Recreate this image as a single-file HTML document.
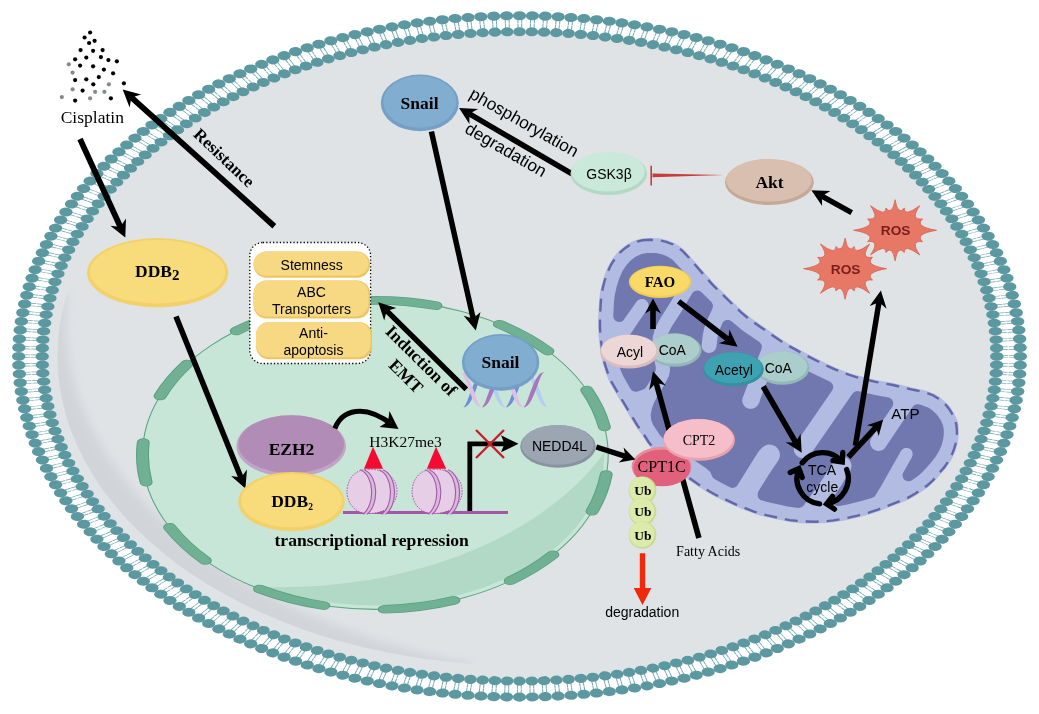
<!DOCTYPE html>
<html><head><meta charset="utf-8"><title>Pathway</title>
<style>
html,body{margin:0;padding:0;background:#fff;}
svg{display:block;will-change:transform;opacity:.999}
.bs{font-family:"Liberation Serif",serif;font-weight:bold}
.rs{font-family:"Liberation Serif",serif}
.sa{font-family:"Liberation Sans",sans-serif}
.bsa{font-family:"Liberation Sans",sans-serif;font-weight:bold}
</style></head><body>
<svg width="1039" height="714" viewBox="0 0 1039 714">
<defs>
<clipPath id="cellclip"><ellipse cx="519.5" cy="356.6" rx="478" ry="325"/></clipPath>
<clipPath id="nucclip"><ellipse cx="375.35" cy="454.9" rx="232.85" ry="154.5"/></clipPath>
<clipPath id="cresclip"><ellipse cx="519.5" cy="356.4" rx="462" ry="309"/></clipPath>
<filter id="blur5" x="-10%" y="-10%" width="120%" height="120%"><feGaussianBlur stdDeviation="5"/></filter>
</defs>
<g id="cell">
<ellipse cx="519.5" cy="356.4" rx="478" ry="325" fill="#dfe3e6"/>
<g clip-path="url(#cresclip)"><path d="M469.8,676.6 458.6,675.7 447.3,674.7 436.1,673.4 424.9,672 413.8,670.3 402.7,668.5 391.8,666.5 380.8,664.4 370,662 359.3,659.5 348.6,656.8 338.1,654 327.6,651 317.3,647.8 307,644.4 296.9,640.9 286.9,637.2 277.1,633.3 267.4,629.3 257.8,625.1 248.4,620.8 239.2,616.3 230.1,611.7 221.1,606.9 212.4,602 203.8,597 195.4,591.8 187.2,586.5 179.1,581 171.3,575.4 163.7,569.7 156.2,563.9 149,557.9 142,551.8 135.2,545.7 128.6,539.4 122.3,533 116.2,526.5 110.3,519.9 104.6,513.2 99.2,506.4 94,499.6 89.1,492.6 84.4,485.6 80,478.5 75.8,471.3 71.9,464.1 68.2,456.8 64.8,449.5 61.6,442.1 58.7,434.6 56.1,427.1 53.7,419.6 51.6,412 49.8,404.4 48.2,396.8 47,389.1 45.9,381.4 45.2,373.7 44.7,366 44.5,358.3 44.6,350.6 44.9,342.9 45.5,335.2 46.4,327.5 47.6,319.9 49,312.2 50.7,304.6 52.6,297 54.9,289.5 67.6,292.2 67,299.7 66.5,307.1 66.2,314.5 66.1,321.9 66.2,329.2 66.5,336.5 67.1,343.8 67.9,351 68.9,358.2 70.2,365.3 71.7,372.4 73.4,379.4 75.3,386.4 77.4,393.3 79.8,400.2 82.3,407 85.1,413.8 88,420.5 91.2,427.1 94.6,433.7 98.1,440.2 101.9,446.7 105.8,453.1 110,459.4 114.3,465.6 118.8,471.8 123.5,478 128.3,484 133.4,490 138.6,495.9 143.9,501.8 149.5,507.6 155.2,513.3 161.1,518.9 167.1,524.5 173.3,530 179.7,535.4 186.2,540.8 192.9,546.1 199.8,551.3 206.8,556.4 213.9,561.5 221.3,566.4 228.7,571.3 236.3,576.1 244.1,580.9 252,585.5 260.1,590.1 268.3,594.5 276.7,598.9 285.2,603.2 293.8,607.4 302.6,611.5 311.5,615.4 320.6,619.3 329.8,623.1 339.1,626.8 348.6,630.3 358.1,633.8 367.9,637.1 377.7,640.3 387.7,643.4 397.7,646.3 407.9,649.1 418.2,651.9 428.6,654.4 439.1,656.9 449.7,659.2 460.4,661.5 471.2,663.7Z" fill="#d1d5da" filter="url(#blur5)"/></g>
<g transform="translate(519.5,356.4) scale(1.47,1)">
<circle r="332.7" fill="none" stroke="#ffffff" stroke-width="14"/>
<circle r="332.7" fill="none" stroke="#74a9b0" stroke-width="8" stroke-dasharray="0.7 5.267 0.7 1.9" stroke-dashoffset="7.567"/><circle r="332.7" fill="none" stroke="#fff" stroke-width="0.7" stroke-opacity="0.7"/>
<g fill="#5b98a0"><ellipse rx="4.55" ry="4.5" transform="rotate(0.00) translate(340.7 0)"/><ellipse rx="4.55" ry="4.3" transform="rotate(0.00) translate(324.7 0)"/><ellipse rx="4.55" ry="4.5" transform="rotate(1.48) translate(340.7 0)"/><ellipse rx="4.55" ry="4.3" transform="rotate(1.48) translate(324.7 0)"/><ellipse rx="4.55" ry="4.5" transform="rotate(2.95) translate(340.7 0)"/><ellipse rx="4.55" ry="4.3" transform="rotate(2.95) translate(324.7 0)"/><ellipse rx="4.55" ry="4.5" transform="rotate(4.43) translate(340.7 0)"/><ellipse rx="4.55" ry="4.3" transform="rotate(4.43) translate(324.7 0)"/><ellipse rx="4.55" ry="4.5" transform="rotate(5.90) translate(340.7 0)"/><ellipse rx="4.55" ry="4.3" transform="rotate(5.90) translate(324.7 0)"/><ellipse rx="4.55" ry="4.5" transform="rotate(7.38) translate(340.7 0)"/><ellipse rx="4.55" ry="4.3" transform="rotate(7.38) translate(324.7 0)"/><ellipse rx="4.55" ry="4.5" transform="rotate(8.85) translate(340.7 0)"/><ellipse rx="4.55" ry="4.3" transform="rotate(8.85) translate(324.7 0)"/><ellipse rx="4.55" ry="4.5" transform="rotate(10.33) translate(340.7 0)"/><ellipse rx="4.55" ry="4.3" transform="rotate(10.33) translate(324.7 0)"/><ellipse rx="4.55" ry="4.5" transform="rotate(11.80) translate(340.7 0)"/><ellipse rx="4.55" ry="4.3" transform="rotate(11.80) translate(324.7 0)"/><ellipse rx="4.55" ry="4.5" transform="rotate(13.28) translate(340.7 0)"/><ellipse rx="4.55" ry="4.3" transform="rotate(13.28) translate(324.7 0)"/><ellipse rx="4.55" ry="4.5" transform="rotate(14.75) translate(340.7 0)"/><ellipse rx="4.55" ry="4.3" transform="rotate(14.75) translate(324.7 0)"/><ellipse rx="4.55" ry="4.5" transform="rotate(16.23) translate(340.7 0)"/><ellipse rx="4.55" ry="4.3" transform="rotate(16.23) translate(324.7 0)"/><ellipse rx="4.55" ry="4.5" transform="rotate(17.70) translate(340.7 0)"/><ellipse rx="4.55" ry="4.3" transform="rotate(17.70) translate(324.7 0)"/><ellipse rx="4.55" ry="4.5" transform="rotate(19.18) translate(340.7 0)"/><ellipse rx="4.55" ry="4.3" transform="rotate(19.18) translate(324.7 0)"/><ellipse rx="4.55" ry="4.5" transform="rotate(20.66) translate(340.7 0)"/><ellipse rx="4.55" ry="4.3" transform="rotate(20.66) translate(324.7 0)"/><ellipse rx="4.55" ry="4.5" transform="rotate(22.13) translate(340.7 0)"/><ellipse rx="4.55" ry="4.3" transform="rotate(22.13) translate(324.7 0)"/><ellipse rx="4.55" ry="4.5" transform="rotate(23.61) translate(340.7 0)"/><ellipse rx="4.55" ry="4.3" transform="rotate(23.61) translate(324.7 0)"/><ellipse rx="4.55" ry="4.5" transform="rotate(25.08) translate(340.7 0)"/><ellipse rx="4.55" ry="4.3" transform="rotate(25.08) translate(324.7 0)"/><ellipse rx="4.55" ry="4.5" transform="rotate(26.56) translate(340.7 0)"/><ellipse rx="4.55" ry="4.3" transform="rotate(26.56) translate(324.7 0)"/><ellipse rx="4.55" ry="4.5" transform="rotate(28.03) translate(340.7 0)"/><ellipse rx="4.55" ry="4.3" transform="rotate(28.03) translate(324.7 0)"/><ellipse rx="4.55" ry="4.5" transform="rotate(29.51) translate(340.7 0)"/><ellipse rx="4.55" ry="4.3" transform="rotate(29.51) translate(324.7 0)"/><ellipse rx="4.55" ry="4.5" transform="rotate(30.98) translate(340.7 0)"/><ellipse rx="4.55" ry="4.3" transform="rotate(30.98) translate(324.7 0)"/><ellipse rx="4.55" ry="4.5" transform="rotate(32.46) translate(340.7 0)"/><ellipse rx="4.55" ry="4.3" transform="rotate(32.46) translate(324.7 0)"/><ellipse rx="4.55" ry="4.5" transform="rotate(33.93) translate(340.7 0)"/><ellipse rx="4.55" ry="4.3" transform="rotate(33.93) translate(324.7 0)"/><ellipse rx="4.55" ry="4.5" transform="rotate(35.41) translate(340.7 0)"/><ellipse rx="4.55" ry="4.3" transform="rotate(35.41) translate(324.7 0)"/><ellipse rx="4.55" ry="4.5" transform="rotate(36.89) translate(340.7 0)"/><ellipse rx="4.55" ry="4.3" transform="rotate(36.89) translate(324.7 0)"/><ellipse rx="4.55" ry="4.5" transform="rotate(38.36) translate(340.7 0)"/><ellipse rx="4.55" ry="4.3" transform="rotate(38.36) translate(324.7 0)"/><ellipse rx="4.55" ry="4.5" transform="rotate(39.84) translate(340.7 0)"/><ellipse rx="4.55" ry="4.3" transform="rotate(39.84) translate(324.7 0)"/><ellipse rx="4.55" ry="4.5" transform="rotate(41.31) translate(340.7 0)"/><ellipse rx="4.55" ry="4.3" transform="rotate(41.31) translate(324.7 0)"/><ellipse rx="4.55" ry="4.5" transform="rotate(42.79) translate(340.7 0)"/><ellipse rx="4.55" ry="4.3" transform="rotate(42.79) translate(324.7 0)"/><ellipse rx="4.55" ry="4.5" transform="rotate(44.26) translate(340.7 0)"/><ellipse rx="4.55" ry="4.3" transform="rotate(44.26) translate(324.7 0)"/><ellipse rx="4.55" ry="4.5" transform="rotate(45.74) translate(340.7 0)"/><ellipse rx="4.55" ry="4.3" transform="rotate(45.74) translate(324.7 0)"/><ellipse rx="4.55" ry="4.5" transform="rotate(47.21) translate(340.7 0)"/><ellipse rx="4.55" ry="4.3" transform="rotate(47.21) translate(324.7 0)"/><ellipse rx="4.55" ry="4.5" transform="rotate(48.69) translate(340.7 0)"/><ellipse rx="4.55" ry="4.3" transform="rotate(48.69) translate(324.7 0)"/><ellipse rx="4.55" ry="4.5" transform="rotate(50.16) translate(340.7 0)"/><ellipse rx="4.55" ry="4.3" transform="rotate(50.16) translate(324.7 0)"/><ellipse rx="4.55" ry="4.5" transform="rotate(51.64) translate(340.7 0)"/><ellipse rx="4.55" ry="4.3" transform="rotate(51.64) translate(324.7 0)"/><ellipse rx="4.55" ry="4.5" transform="rotate(53.11) translate(340.7 0)"/><ellipse rx="4.55" ry="4.3" transform="rotate(53.11) translate(324.7 0)"/><ellipse rx="4.55" ry="4.5" transform="rotate(54.59) translate(340.7 0)"/><ellipse rx="4.55" ry="4.3" transform="rotate(54.59) translate(324.7 0)"/><ellipse rx="4.55" ry="4.5" transform="rotate(56.07) translate(340.7 0)"/><ellipse rx="4.55" ry="4.3" transform="rotate(56.07) translate(324.7 0)"/><ellipse rx="4.55" ry="4.5" transform="rotate(57.54) translate(340.7 0)"/><ellipse rx="4.55" ry="4.3" transform="rotate(57.54) translate(324.7 0)"/><ellipse rx="4.55" ry="4.5" transform="rotate(59.02) translate(340.7 0)"/><ellipse rx="4.55" ry="4.3" transform="rotate(59.02) translate(324.7 0)"/><ellipse rx="4.55" ry="4.5" transform="rotate(60.49) translate(340.7 0)"/><ellipse rx="4.55" ry="4.3" transform="rotate(60.49) translate(324.7 0)"/><ellipse rx="4.55" ry="4.5" transform="rotate(61.97) translate(340.7 0)"/><ellipse rx="4.55" ry="4.3" transform="rotate(61.97) translate(324.7 0)"/><ellipse rx="4.55" ry="4.5" transform="rotate(63.44) translate(340.7 0)"/><ellipse rx="4.55" ry="4.3" transform="rotate(63.44) translate(324.7 0)"/><ellipse rx="4.55" ry="4.5" transform="rotate(64.92) translate(340.7 0)"/><ellipse rx="4.55" ry="4.3" transform="rotate(64.92) translate(324.7 0)"/><ellipse rx="4.55" ry="4.5" transform="rotate(66.39) translate(340.7 0)"/><ellipse rx="4.55" ry="4.3" transform="rotate(66.39) translate(324.7 0)"/><ellipse rx="4.55" ry="4.5" transform="rotate(67.87) translate(340.7 0)"/><ellipse rx="4.55" ry="4.3" transform="rotate(67.87) translate(324.7 0)"/><ellipse rx="4.55" ry="4.5" transform="rotate(69.34) translate(340.7 0)"/><ellipse rx="4.55" ry="4.3" transform="rotate(69.34) translate(324.7 0)"/><ellipse rx="4.55" ry="4.5" transform="rotate(70.82) translate(340.7 0)"/><ellipse rx="4.55" ry="4.3" transform="rotate(70.82) translate(324.7 0)"/><ellipse rx="4.55" ry="4.5" transform="rotate(72.30) translate(340.7 0)"/><ellipse rx="4.55" ry="4.3" transform="rotate(72.30) translate(324.7 0)"/><ellipse rx="4.55" ry="4.5" transform="rotate(73.77) translate(340.7 0)"/><ellipse rx="4.55" ry="4.3" transform="rotate(73.77) translate(324.7 0)"/><ellipse rx="4.55" ry="4.5" transform="rotate(75.25) translate(340.7 0)"/><ellipse rx="4.55" ry="4.3" transform="rotate(75.25) translate(324.7 0)"/><ellipse rx="4.55" ry="4.5" transform="rotate(76.72) translate(340.7 0)"/><ellipse rx="4.55" ry="4.3" transform="rotate(76.72) translate(324.7 0)"/><ellipse rx="4.55" ry="4.5" transform="rotate(78.20) translate(340.7 0)"/><ellipse rx="4.55" ry="4.3" transform="rotate(78.20) translate(324.7 0)"/><ellipse rx="4.55" ry="4.5" transform="rotate(79.67) translate(340.7 0)"/><ellipse rx="4.55" ry="4.3" transform="rotate(79.67) translate(324.7 0)"/><ellipse rx="4.55" ry="4.5" transform="rotate(81.15) translate(340.7 0)"/><ellipse rx="4.55" ry="4.3" transform="rotate(81.15) translate(324.7 0)"/><ellipse rx="4.55" ry="4.5" transform="rotate(82.62) translate(340.7 0)"/><ellipse rx="4.55" ry="4.3" transform="rotate(82.62) translate(324.7 0)"/><ellipse rx="4.55" ry="4.5" transform="rotate(84.10) translate(340.7 0)"/><ellipse rx="4.55" ry="4.3" transform="rotate(84.10) translate(324.7 0)"/><ellipse rx="4.55" ry="4.5" transform="rotate(85.57) translate(340.7 0)"/><ellipse rx="4.55" ry="4.3" transform="rotate(85.57) translate(324.7 0)"/><ellipse rx="4.55" ry="4.5" transform="rotate(87.05) translate(340.7 0)"/><ellipse rx="4.55" ry="4.3" transform="rotate(87.05) translate(324.7 0)"/><ellipse rx="4.55" ry="4.5" transform="rotate(88.52) translate(340.7 0)"/><ellipse rx="4.55" ry="4.3" transform="rotate(88.52) translate(324.7 0)"/><ellipse rx="4.55" ry="4.5" transform="rotate(90.00) translate(340.7 0)"/><ellipse rx="4.55" ry="4.3" transform="rotate(90.00) translate(324.7 0)"/><ellipse rx="4.55" ry="4.5" transform="rotate(91.48) translate(340.7 0)"/><ellipse rx="4.55" ry="4.3" transform="rotate(91.48) translate(324.7 0)"/><ellipse rx="4.55" ry="4.5" transform="rotate(92.95) translate(340.7 0)"/><ellipse rx="4.55" ry="4.3" transform="rotate(92.95) translate(324.7 0)"/><ellipse rx="4.55" ry="4.5" transform="rotate(94.43) translate(340.7 0)"/><ellipse rx="4.55" ry="4.3" transform="rotate(94.43) translate(324.7 0)"/><ellipse rx="4.55" ry="4.5" transform="rotate(95.90) translate(340.7 0)"/><ellipse rx="4.55" ry="4.3" transform="rotate(95.90) translate(324.7 0)"/><ellipse rx="4.55" ry="4.5" transform="rotate(97.38) translate(340.7 0)"/><ellipse rx="4.55" ry="4.3" transform="rotate(97.38) translate(324.7 0)"/><ellipse rx="4.55" ry="4.5" transform="rotate(98.85) translate(340.7 0)"/><ellipse rx="4.55" ry="4.3" transform="rotate(98.85) translate(324.7 0)"/><ellipse rx="4.55" ry="4.5" transform="rotate(100.33) translate(340.7 0)"/><ellipse rx="4.55" ry="4.3" transform="rotate(100.33) translate(324.7 0)"/><ellipse rx="4.55" ry="4.5" transform="rotate(101.80) translate(340.7 0)"/><ellipse rx="4.55" ry="4.3" transform="rotate(101.80) translate(324.7 0)"/><ellipse rx="4.55" ry="4.5" transform="rotate(103.28) translate(340.7 0)"/><ellipse rx="4.55" ry="4.3" transform="rotate(103.28) translate(324.7 0)"/><ellipse rx="4.55" ry="4.5" transform="rotate(104.75) translate(340.7 0)"/><ellipse rx="4.55" ry="4.3" transform="rotate(104.75) translate(324.7 0)"/><ellipse rx="4.55" ry="4.5" transform="rotate(106.23) translate(340.7 0)"/><ellipse rx="4.55" ry="4.3" transform="rotate(106.23) translate(324.7 0)"/><ellipse rx="4.55" ry="4.5" transform="rotate(107.70) translate(340.7 0)"/><ellipse rx="4.55" ry="4.3" transform="rotate(107.70) translate(324.7 0)"/><ellipse rx="4.55" ry="4.5" transform="rotate(109.18) translate(340.7 0)"/><ellipse rx="4.55" ry="4.3" transform="rotate(109.18) translate(324.7 0)"/><ellipse rx="4.55" ry="4.5" transform="rotate(110.66) translate(340.7 0)"/><ellipse rx="4.55" ry="4.3" transform="rotate(110.66) translate(324.7 0)"/><ellipse rx="4.55" ry="4.5" transform="rotate(112.13) translate(340.7 0)"/><ellipse rx="4.55" ry="4.3" transform="rotate(112.13) translate(324.7 0)"/><ellipse rx="4.55" ry="4.5" transform="rotate(113.61) translate(340.7 0)"/><ellipse rx="4.55" ry="4.3" transform="rotate(113.61) translate(324.7 0)"/><ellipse rx="4.55" ry="4.5" transform="rotate(115.08) translate(340.7 0)"/><ellipse rx="4.55" ry="4.3" transform="rotate(115.08) translate(324.7 0)"/><ellipse rx="4.55" ry="4.5" transform="rotate(116.56) translate(340.7 0)"/><ellipse rx="4.55" ry="4.3" transform="rotate(116.56) translate(324.7 0)"/><ellipse rx="4.55" ry="4.5" transform="rotate(118.03) translate(340.7 0)"/><ellipse rx="4.55" ry="4.3" transform="rotate(118.03) translate(324.7 0)"/><ellipse rx="4.55" ry="4.5" transform="rotate(119.51) translate(340.7 0)"/><ellipse rx="4.55" ry="4.3" transform="rotate(119.51) translate(324.7 0)"/><ellipse rx="4.55" ry="4.5" transform="rotate(120.98) translate(340.7 0)"/><ellipse rx="4.55" ry="4.3" transform="rotate(120.98) translate(324.7 0)"/><ellipse rx="4.55" ry="4.5" transform="rotate(122.46) translate(340.7 0)"/><ellipse rx="4.55" ry="4.3" transform="rotate(122.46) translate(324.7 0)"/><ellipse rx="4.55" ry="4.5" transform="rotate(123.93) translate(340.7 0)"/><ellipse rx="4.55" ry="4.3" transform="rotate(123.93) translate(324.7 0)"/><ellipse rx="4.55" ry="4.5" transform="rotate(125.41) translate(340.7 0)"/><ellipse rx="4.55" ry="4.3" transform="rotate(125.41) translate(324.7 0)"/><ellipse rx="4.55" ry="4.5" transform="rotate(126.89) translate(340.7 0)"/><ellipse rx="4.55" ry="4.3" transform="rotate(126.89) translate(324.7 0)"/><ellipse rx="4.55" ry="4.5" transform="rotate(128.36) translate(340.7 0)"/><ellipse rx="4.55" ry="4.3" transform="rotate(128.36) translate(324.7 0)"/><ellipse rx="4.55" ry="4.5" transform="rotate(129.84) translate(340.7 0)"/><ellipse rx="4.55" ry="4.3" transform="rotate(129.84) translate(324.7 0)"/><ellipse rx="4.55" ry="4.5" transform="rotate(131.31) translate(340.7 0)"/><ellipse rx="4.55" ry="4.3" transform="rotate(131.31) translate(324.7 0)"/><ellipse rx="4.55" ry="4.5" transform="rotate(132.79) translate(340.7 0)"/><ellipse rx="4.55" ry="4.3" transform="rotate(132.79) translate(324.7 0)"/><ellipse rx="4.55" ry="4.5" transform="rotate(134.26) translate(340.7 0)"/><ellipse rx="4.55" ry="4.3" transform="rotate(134.26) translate(324.7 0)"/><ellipse rx="4.55" ry="4.5" transform="rotate(135.74) translate(340.7 0)"/><ellipse rx="4.55" ry="4.3" transform="rotate(135.74) translate(324.7 0)"/><ellipse rx="4.55" ry="4.5" transform="rotate(137.21) translate(340.7 0)"/><ellipse rx="4.55" ry="4.3" transform="rotate(137.21) translate(324.7 0)"/><ellipse rx="4.55" ry="4.5" transform="rotate(138.69) translate(340.7 0)"/><ellipse rx="4.55" ry="4.3" transform="rotate(138.69) translate(324.7 0)"/><ellipse rx="4.55" ry="4.5" transform="rotate(140.16) translate(340.7 0)"/><ellipse rx="4.55" ry="4.3" transform="rotate(140.16) translate(324.7 0)"/><ellipse rx="4.55" ry="4.5" transform="rotate(141.64) translate(340.7 0)"/><ellipse rx="4.55" ry="4.3" transform="rotate(141.64) translate(324.7 0)"/><ellipse rx="4.55" ry="4.5" transform="rotate(143.11) translate(340.7 0)"/><ellipse rx="4.55" ry="4.3" transform="rotate(143.11) translate(324.7 0)"/><ellipse rx="4.55" ry="4.5" transform="rotate(144.59) translate(340.7 0)"/><ellipse rx="4.55" ry="4.3" transform="rotate(144.59) translate(324.7 0)"/><ellipse rx="4.55" ry="4.5" transform="rotate(146.07) translate(340.7 0)"/><ellipse rx="4.55" ry="4.3" transform="rotate(146.07) translate(324.7 0)"/><ellipse rx="4.55" ry="4.5" transform="rotate(147.54) translate(340.7 0)"/><ellipse rx="4.55" ry="4.3" transform="rotate(147.54) translate(324.7 0)"/><ellipse rx="4.55" ry="4.5" transform="rotate(149.02) translate(340.7 0)"/><ellipse rx="4.55" ry="4.3" transform="rotate(149.02) translate(324.7 0)"/><ellipse rx="4.55" ry="4.5" transform="rotate(150.49) translate(340.7 0)"/><ellipse rx="4.55" ry="4.3" transform="rotate(150.49) translate(324.7 0)"/><ellipse rx="4.55" ry="4.5" transform="rotate(151.97) translate(340.7 0)"/><ellipse rx="4.55" ry="4.3" transform="rotate(151.97) translate(324.7 0)"/><ellipse rx="4.55" ry="4.5" transform="rotate(153.44) translate(340.7 0)"/><ellipse rx="4.55" ry="4.3" transform="rotate(153.44) translate(324.7 0)"/><ellipse rx="4.55" ry="4.5" transform="rotate(154.92) translate(340.7 0)"/><ellipse rx="4.55" ry="4.3" transform="rotate(154.92) translate(324.7 0)"/><ellipse rx="4.55" ry="4.5" transform="rotate(156.39) translate(340.7 0)"/><ellipse rx="4.55" ry="4.3" transform="rotate(156.39) translate(324.7 0)"/><ellipse rx="4.55" ry="4.5" transform="rotate(157.87) translate(340.7 0)"/><ellipse rx="4.55" ry="4.3" transform="rotate(157.87) translate(324.7 0)"/><ellipse rx="4.55" ry="4.5" transform="rotate(159.34) translate(340.7 0)"/><ellipse rx="4.55" ry="4.3" transform="rotate(159.34) translate(324.7 0)"/><ellipse rx="4.55" ry="4.5" transform="rotate(160.82) translate(340.7 0)"/><ellipse rx="4.55" ry="4.3" transform="rotate(160.82) translate(324.7 0)"/><ellipse rx="4.55" ry="4.5" transform="rotate(162.30) translate(340.7 0)"/><ellipse rx="4.55" ry="4.3" transform="rotate(162.30) translate(324.7 0)"/><ellipse rx="4.55" ry="4.5" transform="rotate(163.77) translate(340.7 0)"/><ellipse rx="4.55" ry="4.3" transform="rotate(163.77) translate(324.7 0)"/><ellipse rx="4.55" ry="4.5" transform="rotate(165.25) translate(340.7 0)"/><ellipse rx="4.55" ry="4.3" transform="rotate(165.25) translate(324.7 0)"/><ellipse rx="4.55" ry="4.5" transform="rotate(166.72) translate(340.7 0)"/><ellipse rx="4.55" ry="4.3" transform="rotate(166.72) translate(324.7 0)"/><ellipse rx="4.55" ry="4.5" transform="rotate(168.20) translate(340.7 0)"/><ellipse rx="4.55" ry="4.3" transform="rotate(168.20) translate(324.7 0)"/><ellipse rx="4.55" ry="4.5" transform="rotate(169.67) translate(340.7 0)"/><ellipse rx="4.55" ry="4.3" transform="rotate(169.67) translate(324.7 0)"/><ellipse rx="4.55" ry="4.5" transform="rotate(171.15) translate(340.7 0)"/><ellipse rx="4.55" ry="4.3" transform="rotate(171.15) translate(324.7 0)"/><ellipse rx="4.55" ry="4.5" transform="rotate(172.62) translate(340.7 0)"/><ellipse rx="4.55" ry="4.3" transform="rotate(172.62) translate(324.7 0)"/><ellipse rx="4.55" ry="4.5" transform="rotate(174.10) translate(340.7 0)"/><ellipse rx="4.55" ry="4.3" transform="rotate(174.10) translate(324.7 0)"/><ellipse rx="4.55" ry="4.5" transform="rotate(175.57) translate(340.7 0)"/><ellipse rx="4.55" ry="4.3" transform="rotate(175.57) translate(324.7 0)"/><ellipse rx="4.55" ry="4.5" transform="rotate(177.05) translate(340.7 0)"/><ellipse rx="4.55" ry="4.3" transform="rotate(177.05) translate(324.7 0)"/><ellipse rx="4.55" ry="4.5" transform="rotate(178.52) translate(340.7 0)"/><ellipse rx="4.55" ry="4.3" transform="rotate(178.52) translate(324.7 0)"/><ellipse rx="4.55" ry="4.5" transform="rotate(180.00) translate(340.7 0)"/><ellipse rx="4.55" ry="4.3" transform="rotate(180.00) translate(324.7 0)"/><ellipse rx="4.55" ry="4.5" transform="rotate(181.48) translate(340.7 0)"/><ellipse rx="4.55" ry="4.3" transform="rotate(181.48) translate(324.7 0)"/><ellipse rx="4.55" ry="4.5" transform="rotate(182.95) translate(340.7 0)"/><ellipse rx="4.55" ry="4.3" transform="rotate(182.95) translate(324.7 0)"/><ellipse rx="4.55" ry="4.5" transform="rotate(184.43) translate(340.7 0)"/><ellipse rx="4.55" ry="4.3" transform="rotate(184.43) translate(324.7 0)"/><ellipse rx="4.55" ry="4.5" transform="rotate(185.90) translate(340.7 0)"/><ellipse rx="4.55" ry="4.3" transform="rotate(185.90) translate(324.7 0)"/><ellipse rx="4.55" ry="4.5" transform="rotate(187.38) translate(340.7 0)"/><ellipse rx="4.55" ry="4.3" transform="rotate(187.38) translate(324.7 0)"/><ellipse rx="4.55" ry="4.5" transform="rotate(188.85) translate(340.7 0)"/><ellipse rx="4.55" ry="4.3" transform="rotate(188.85) translate(324.7 0)"/><ellipse rx="4.55" ry="4.5" transform="rotate(190.33) translate(340.7 0)"/><ellipse rx="4.55" ry="4.3" transform="rotate(190.33) translate(324.7 0)"/><ellipse rx="4.55" ry="4.5" transform="rotate(191.80) translate(340.7 0)"/><ellipse rx="4.55" ry="4.3" transform="rotate(191.80) translate(324.7 0)"/><ellipse rx="4.55" ry="4.5" transform="rotate(193.28) translate(340.7 0)"/><ellipse rx="4.55" ry="4.3" transform="rotate(193.28) translate(324.7 0)"/><ellipse rx="4.55" ry="4.5" transform="rotate(194.75) translate(340.7 0)"/><ellipse rx="4.55" ry="4.3" transform="rotate(194.75) translate(324.7 0)"/><ellipse rx="4.55" ry="4.5" transform="rotate(196.23) translate(340.7 0)"/><ellipse rx="4.55" ry="4.3" transform="rotate(196.23) translate(324.7 0)"/><ellipse rx="4.55" ry="4.5" transform="rotate(197.70) translate(340.7 0)"/><ellipse rx="4.55" ry="4.3" transform="rotate(197.70) translate(324.7 0)"/><ellipse rx="4.55" ry="4.5" transform="rotate(199.18) translate(340.7 0)"/><ellipse rx="4.55" ry="4.3" transform="rotate(199.18) translate(324.7 0)"/><ellipse rx="4.55" ry="4.5" transform="rotate(200.66) translate(340.7 0)"/><ellipse rx="4.55" ry="4.3" transform="rotate(200.66) translate(324.7 0)"/><ellipse rx="4.55" ry="4.5" transform="rotate(202.13) translate(340.7 0)"/><ellipse rx="4.55" ry="4.3" transform="rotate(202.13) translate(324.7 0)"/><ellipse rx="4.55" ry="4.5" transform="rotate(203.61) translate(340.7 0)"/><ellipse rx="4.55" ry="4.3" transform="rotate(203.61) translate(324.7 0)"/><ellipse rx="4.55" ry="4.5" transform="rotate(205.08) translate(340.7 0)"/><ellipse rx="4.55" ry="4.3" transform="rotate(205.08) translate(324.7 0)"/><ellipse rx="4.55" ry="4.5" transform="rotate(206.56) translate(340.7 0)"/><ellipse rx="4.55" ry="4.3" transform="rotate(206.56) translate(324.7 0)"/><ellipse rx="4.55" ry="4.5" transform="rotate(208.03) translate(340.7 0)"/><ellipse rx="4.55" ry="4.3" transform="rotate(208.03) translate(324.7 0)"/><ellipse rx="4.55" ry="4.5" transform="rotate(209.51) translate(340.7 0)"/><ellipse rx="4.55" ry="4.3" transform="rotate(209.51) translate(324.7 0)"/><ellipse rx="4.55" ry="4.5" transform="rotate(210.98) translate(340.7 0)"/><ellipse rx="4.55" ry="4.3" transform="rotate(210.98) translate(324.7 0)"/><ellipse rx="4.55" ry="4.5" transform="rotate(212.46) translate(340.7 0)"/><ellipse rx="4.55" ry="4.3" transform="rotate(212.46) translate(324.7 0)"/><ellipse rx="4.55" ry="4.5" transform="rotate(213.93) translate(340.7 0)"/><ellipse rx="4.55" ry="4.3" transform="rotate(213.93) translate(324.7 0)"/><ellipse rx="4.55" ry="4.5" transform="rotate(215.41) translate(340.7 0)"/><ellipse rx="4.55" ry="4.3" transform="rotate(215.41) translate(324.7 0)"/><ellipse rx="4.55" ry="4.5" transform="rotate(216.89) translate(340.7 0)"/><ellipse rx="4.55" ry="4.3" transform="rotate(216.89) translate(324.7 0)"/><ellipse rx="4.55" ry="4.5" transform="rotate(218.36) translate(340.7 0)"/><ellipse rx="4.55" ry="4.3" transform="rotate(218.36) translate(324.7 0)"/><ellipse rx="4.55" ry="4.5" transform="rotate(219.84) translate(340.7 0)"/><ellipse rx="4.55" ry="4.3" transform="rotate(219.84) translate(324.7 0)"/><ellipse rx="4.55" ry="4.5" transform="rotate(221.31) translate(340.7 0)"/><ellipse rx="4.55" ry="4.3" transform="rotate(221.31) translate(324.7 0)"/><ellipse rx="4.55" ry="4.5" transform="rotate(222.79) translate(340.7 0)"/><ellipse rx="4.55" ry="4.3" transform="rotate(222.79) translate(324.7 0)"/><ellipse rx="4.55" ry="4.5" transform="rotate(224.26) translate(340.7 0)"/><ellipse rx="4.55" ry="4.3" transform="rotate(224.26) translate(324.7 0)"/><ellipse rx="4.55" ry="4.5" transform="rotate(225.74) translate(340.7 0)"/><ellipse rx="4.55" ry="4.3" transform="rotate(225.74) translate(324.7 0)"/><ellipse rx="4.55" ry="4.5" transform="rotate(227.21) translate(340.7 0)"/><ellipse rx="4.55" ry="4.3" transform="rotate(227.21) translate(324.7 0)"/><ellipse rx="4.55" ry="4.5" transform="rotate(228.69) translate(340.7 0)"/><ellipse rx="4.55" ry="4.3" transform="rotate(228.69) translate(324.7 0)"/><ellipse rx="4.55" ry="4.5" transform="rotate(230.16) translate(340.7 0)"/><ellipse rx="4.55" ry="4.3" transform="rotate(230.16) translate(324.7 0)"/><ellipse rx="4.55" ry="4.5" transform="rotate(231.64) translate(340.7 0)"/><ellipse rx="4.55" ry="4.3" transform="rotate(231.64) translate(324.7 0)"/><ellipse rx="4.55" ry="4.5" transform="rotate(233.11) translate(340.7 0)"/><ellipse rx="4.55" ry="4.3" transform="rotate(233.11) translate(324.7 0)"/><ellipse rx="4.55" ry="4.5" transform="rotate(234.59) translate(340.7 0)"/><ellipse rx="4.55" ry="4.3" transform="rotate(234.59) translate(324.7 0)"/><ellipse rx="4.55" ry="4.5" transform="rotate(236.07) translate(340.7 0)"/><ellipse rx="4.55" ry="4.3" transform="rotate(236.07) translate(324.7 0)"/><ellipse rx="4.55" ry="4.5" transform="rotate(237.54) translate(340.7 0)"/><ellipse rx="4.55" ry="4.3" transform="rotate(237.54) translate(324.7 0)"/><ellipse rx="4.55" ry="4.5" transform="rotate(239.02) translate(340.7 0)"/><ellipse rx="4.55" ry="4.3" transform="rotate(239.02) translate(324.7 0)"/><ellipse rx="4.55" ry="4.5" transform="rotate(240.49) translate(340.7 0)"/><ellipse rx="4.55" ry="4.3" transform="rotate(240.49) translate(324.7 0)"/><ellipse rx="4.55" ry="4.5" transform="rotate(241.97) translate(340.7 0)"/><ellipse rx="4.55" ry="4.3" transform="rotate(241.97) translate(324.7 0)"/><ellipse rx="4.55" ry="4.5" transform="rotate(243.44) translate(340.7 0)"/><ellipse rx="4.55" ry="4.3" transform="rotate(243.44) translate(324.7 0)"/><ellipse rx="4.55" ry="4.5" transform="rotate(244.92) translate(340.7 0)"/><ellipse rx="4.55" ry="4.3" transform="rotate(244.92) translate(324.7 0)"/><ellipse rx="4.55" ry="4.5" transform="rotate(246.39) translate(340.7 0)"/><ellipse rx="4.55" ry="4.3" transform="rotate(246.39) translate(324.7 0)"/><ellipse rx="4.55" ry="4.5" transform="rotate(247.87) translate(340.7 0)"/><ellipse rx="4.55" ry="4.3" transform="rotate(247.87) translate(324.7 0)"/><ellipse rx="4.55" ry="4.5" transform="rotate(249.34) translate(340.7 0)"/><ellipse rx="4.55" ry="4.3" transform="rotate(249.34) translate(324.7 0)"/><ellipse rx="4.55" ry="4.5" transform="rotate(250.82) translate(340.7 0)"/><ellipse rx="4.55" ry="4.3" transform="rotate(250.82) translate(324.7 0)"/><ellipse rx="4.55" ry="4.5" transform="rotate(252.30) translate(340.7 0)"/><ellipse rx="4.55" ry="4.3" transform="rotate(252.30) translate(324.7 0)"/><ellipse rx="4.55" ry="4.5" transform="rotate(253.77) translate(340.7 0)"/><ellipse rx="4.55" ry="4.3" transform="rotate(253.77) translate(324.7 0)"/><ellipse rx="4.55" ry="4.5" transform="rotate(255.25) translate(340.7 0)"/><ellipse rx="4.55" ry="4.3" transform="rotate(255.25) translate(324.7 0)"/><ellipse rx="4.55" ry="4.5" transform="rotate(256.72) translate(340.7 0)"/><ellipse rx="4.55" ry="4.3" transform="rotate(256.72) translate(324.7 0)"/><ellipse rx="4.55" ry="4.5" transform="rotate(258.20) translate(340.7 0)"/><ellipse rx="4.55" ry="4.3" transform="rotate(258.20) translate(324.7 0)"/><ellipse rx="4.55" ry="4.5" transform="rotate(259.67) translate(340.7 0)"/><ellipse rx="4.55" ry="4.3" transform="rotate(259.67) translate(324.7 0)"/><ellipse rx="4.55" ry="4.5" transform="rotate(261.15) translate(340.7 0)"/><ellipse rx="4.55" ry="4.3" transform="rotate(261.15) translate(324.7 0)"/><ellipse rx="4.55" ry="4.5" transform="rotate(262.62) translate(340.7 0)"/><ellipse rx="4.55" ry="4.3" transform="rotate(262.62) translate(324.7 0)"/><ellipse rx="4.55" ry="4.5" transform="rotate(264.10) translate(340.7 0)"/><ellipse rx="4.55" ry="4.3" transform="rotate(264.10) translate(324.7 0)"/><ellipse rx="4.55" ry="4.5" transform="rotate(265.57) translate(340.7 0)"/><ellipse rx="4.55" ry="4.3" transform="rotate(265.57) translate(324.7 0)"/><ellipse rx="4.55" ry="4.5" transform="rotate(267.05) translate(340.7 0)"/><ellipse rx="4.55" ry="4.3" transform="rotate(267.05) translate(324.7 0)"/><ellipse rx="4.55" ry="4.5" transform="rotate(268.52) translate(340.7 0)"/><ellipse rx="4.55" ry="4.3" transform="rotate(268.52) translate(324.7 0)"/><ellipse rx="4.55" ry="4.5" transform="rotate(270.00) translate(340.7 0)"/><ellipse rx="4.55" ry="4.3" transform="rotate(270.00) translate(324.7 0)"/><ellipse rx="4.55" ry="4.5" transform="rotate(271.48) translate(340.7 0)"/><ellipse rx="4.55" ry="4.3" transform="rotate(271.48) translate(324.7 0)"/><ellipse rx="4.55" ry="4.5" transform="rotate(272.95) translate(340.7 0)"/><ellipse rx="4.55" ry="4.3" transform="rotate(272.95) translate(324.7 0)"/><ellipse rx="4.55" ry="4.5" transform="rotate(274.43) translate(340.7 0)"/><ellipse rx="4.55" ry="4.3" transform="rotate(274.43) translate(324.7 0)"/><ellipse rx="4.55" ry="4.5" transform="rotate(275.90) translate(340.7 0)"/><ellipse rx="4.55" ry="4.3" transform="rotate(275.90) translate(324.7 0)"/><ellipse rx="4.55" ry="4.5" transform="rotate(277.38) translate(340.7 0)"/><ellipse rx="4.55" ry="4.3" transform="rotate(277.38) translate(324.7 0)"/><ellipse rx="4.55" ry="4.5" transform="rotate(278.85) translate(340.7 0)"/><ellipse rx="4.55" ry="4.3" transform="rotate(278.85) translate(324.7 0)"/><ellipse rx="4.55" ry="4.5" transform="rotate(280.33) translate(340.7 0)"/><ellipse rx="4.55" ry="4.3" transform="rotate(280.33) translate(324.7 0)"/><ellipse rx="4.55" ry="4.5" transform="rotate(281.80) translate(340.7 0)"/><ellipse rx="4.55" ry="4.3" transform="rotate(281.80) translate(324.7 0)"/><ellipse rx="4.55" ry="4.5" transform="rotate(283.28) translate(340.7 0)"/><ellipse rx="4.55" ry="4.3" transform="rotate(283.28) translate(324.7 0)"/><ellipse rx="4.55" ry="4.5" transform="rotate(284.75) translate(340.7 0)"/><ellipse rx="4.55" ry="4.3" transform="rotate(284.75) translate(324.7 0)"/><ellipse rx="4.55" ry="4.5" transform="rotate(286.23) translate(340.7 0)"/><ellipse rx="4.55" ry="4.3" transform="rotate(286.23) translate(324.7 0)"/><ellipse rx="4.55" ry="4.5" transform="rotate(287.70) translate(340.7 0)"/><ellipse rx="4.55" ry="4.3" transform="rotate(287.70) translate(324.7 0)"/><ellipse rx="4.55" ry="4.5" transform="rotate(289.18) translate(340.7 0)"/><ellipse rx="4.55" ry="4.3" transform="rotate(289.18) translate(324.7 0)"/><ellipse rx="4.55" ry="4.5" transform="rotate(290.66) translate(340.7 0)"/><ellipse rx="4.55" ry="4.3" transform="rotate(290.66) translate(324.7 0)"/><ellipse rx="4.55" ry="4.5" transform="rotate(292.13) translate(340.7 0)"/><ellipse rx="4.55" ry="4.3" transform="rotate(292.13) translate(324.7 0)"/><ellipse rx="4.55" ry="4.5" transform="rotate(293.61) translate(340.7 0)"/><ellipse rx="4.55" ry="4.3" transform="rotate(293.61) translate(324.7 0)"/><ellipse rx="4.55" ry="4.5" transform="rotate(295.08) translate(340.7 0)"/><ellipse rx="4.55" ry="4.3" transform="rotate(295.08) translate(324.7 0)"/><ellipse rx="4.55" ry="4.5" transform="rotate(296.56) translate(340.7 0)"/><ellipse rx="4.55" ry="4.3" transform="rotate(296.56) translate(324.7 0)"/><ellipse rx="4.55" ry="4.5" transform="rotate(298.03) translate(340.7 0)"/><ellipse rx="4.55" ry="4.3" transform="rotate(298.03) translate(324.7 0)"/><ellipse rx="4.55" ry="4.5" transform="rotate(299.51) translate(340.7 0)"/><ellipse rx="4.55" ry="4.3" transform="rotate(299.51) translate(324.7 0)"/><ellipse rx="4.55" ry="4.5" transform="rotate(300.98) translate(340.7 0)"/><ellipse rx="4.55" ry="4.3" transform="rotate(300.98) translate(324.7 0)"/><ellipse rx="4.55" ry="4.5" transform="rotate(302.46) translate(340.7 0)"/><ellipse rx="4.55" ry="4.3" transform="rotate(302.46) translate(324.7 0)"/><ellipse rx="4.55" ry="4.5" transform="rotate(303.93) translate(340.7 0)"/><ellipse rx="4.55" ry="4.3" transform="rotate(303.93) translate(324.7 0)"/><ellipse rx="4.55" ry="4.5" transform="rotate(305.41) translate(340.7 0)"/><ellipse rx="4.55" ry="4.3" transform="rotate(305.41) translate(324.7 0)"/><ellipse rx="4.55" ry="4.5" transform="rotate(306.89) translate(340.7 0)"/><ellipse rx="4.55" ry="4.3" transform="rotate(306.89) translate(324.7 0)"/><ellipse rx="4.55" ry="4.5" transform="rotate(308.36) translate(340.7 0)"/><ellipse rx="4.55" ry="4.3" transform="rotate(308.36) translate(324.7 0)"/><ellipse rx="4.55" ry="4.5" transform="rotate(309.84) translate(340.7 0)"/><ellipse rx="4.55" ry="4.3" transform="rotate(309.84) translate(324.7 0)"/><ellipse rx="4.55" ry="4.5" transform="rotate(311.31) translate(340.7 0)"/><ellipse rx="4.55" ry="4.3" transform="rotate(311.31) translate(324.7 0)"/><ellipse rx="4.55" ry="4.5" transform="rotate(312.79) translate(340.7 0)"/><ellipse rx="4.55" ry="4.3" transform="rotate(312.79) translate(324.7 0)"/><ellipse rx="4.55" ry="4.5" transform="rotate(314.26) translate(340.7 0)"/><ellipse rx="4.55" ry="4.3" transform="rotate(314.26) translate(324.7 0)"/><ellipse rx="4.55" ry="4.5" transform="rotate(315.74) translate(340.7 0)"/><ellipse rx="4.55" ry="4.3" transform="rotate(315.74) translate(324.7 0)"/><ellipse rx="4.55" ry="4.5" transform="rotate(317.21) translate(340.7 0)"/><ellipse rx="4.55" ry="4.3" transform="rotate(317.21) translate(324.7 0)"/><ellipse rx="4.55" ry="4.5" transform="rotate(318.69) translate(340.7 0)"/><ellipse rx="4.55" ry="4.3" transform="rotate(318.69) translate(324.7 0)"/><ellipse rx="4.55" ry="4.5" transform="rotate(320.16) translate(340.7 0)"/><ellipse rx="4.55" ry="4.3" transform="rotate(320.16) translate(324.7 0)"/><ellipse rx="4.55" ry="4.5" transform="rotate(321.64) translate(340.7 0)"/><ellipse rx="4.55" ry="4.3" transform="rotate(321.64) translate(324.7 0)"/><ellipse rx="4.55" ry="4.5" transform="rotate(323.11) translate(340.7 0)"/><ellipse rx="4.55" ry="4.3" transform="rotate(323.11) translate(324.7 0)"/><ellipse rx="4.55" ry="4.5" transform="rotate(324.59) translate(340.7 0)"/><ellipse rx="4.55" ry="4.3" transform="rotate(324.59) translate(324.7 0)"/><ellipse rx="4.55" ry="4.5" transform="rotate(326.07) translate(340.7 0)"/><ellipse rx="4.55" ry="4.3" transform="rotate(326.07) translate(324.7 0)"/><ellipse rx="4.55" ry="4.5" transform="rotate(327.54) translate(340.7 0)"/><ellipse rx="4.55" ry="4.3" transform="rotate(327.54) translate(324.7 0)"/><ellipse rx="4.55" ry="4.5" transform="rotate(329.02) translate(340.7 0)"/><ellipse rx="4.55" ry="4.3" transform="rotate(329.02) translate(324.7 0)"/><ellipse rx="4.55" ry="4.5" transform="rotate(330.49) translate(340.7 0)"/><ellipse rx="4.55" ry="4.3" transform="rotate(330.49) translate(324.7 0)"/><ellipse rx="4.55" ry="4.5" transform="rotate(331.97) translate(340.7 0)"/><ellipse rx="4.55" ry="4.3" transform="rotate(331.97) translate(324.7 0)"/><ellipse rx="4.55" ry="4.5" transform="rotate(333.44) translate(340.7 0)"/><ellipse rx="4.55" ry="4.3" transform="rotate(333.44) translate(324.7 0)"/><ellipse rx="4.55" ry="4.5" transform="rotate(334.92) translate(340.7 0)"/><ellipse rx="4.55" ry="4.3" transform="rotate(334.92) translate(324.7 0)"/><ellipse rx="4.55" ry="4.5" transform="rotate(336.39) translate(340.7 0)"/><ellipse rx="4.55" ry="4.3" transform="rotate(336.39) translate(324.7 0)"/><ellipse rx="4.55" ry="4.5" transform="rotate(337.87) translate(340.7 0)"/><ellipse rx="4.55" ry="4.3" transform="rotate(337.87) translate(324.7 0)"/><ellipse rx="4.55" ry="4.5" transform="rotate(339.34) translate(340.7 0)"/><ellipse rx="4.55" ry="4.3" transform="rotate(339.34) translate(324.7 0)"/><ellipse rx="4.55" ry="4.5" transform="rotate(340.82) translate(340.7 0)"/><ellipse rx="4.55" ry="4.3" transform="rotate(340.82) translate(324.7 0)"/><ellipse rx="4.55" ry="4.5" transform="rotate(342.30) translate(340.7 0)"/><ellipse rx="4.55" ry="4.3" transform="rotate(342.30) translate(324.7 0)"/><ellipse rx="4.55" ry="4.5" transform="rotate(343.77) translate(340.7 0)"/><ellipse rx="4.55" ry="4.3" transform="rotate(343.77) translate(324.7 0)"/><ellipse rx="4.55" ry="4.5" transform="rotate(345.25) translate(340.7 0)"/><ellipse rx="4.55" ry="4.3" transform="rotate(345.25) translate(324.7 0)"/><ellipse rx="4.55" ry="4.5" transform="rotate(346.72) translate(340.7 0)"/><ellipse rx="4.55" ry="4.3" transform="rotate(346.72) translate(324.7 0)"/><ellipse rx="4.55" ry="4.5" transform="rotate(348.20) translate(340.7 0)"/><ellipse rx="4.55" ry="4.3" transform="rotate(348.20) translate(324.7 0)"/><ellipse rx="4.55" ry="4.5" transform="rotate(349.67) translate(340.7 0)"/><ellipse rx="4.55" ry="4.3" transform="rotate(349.67) translate(324.7 0)"/><ellipse rx="4.55" ry="4.5" transform="rotate(351.15) translate(340.7 0)"/><ellipse rx="4.55" ry="4.3" transform="rotate(351.15) translate(324.7 0)"/><ellipse rx="4.55" ry="4.5" transform="rotate(352.62) translate(340.7 0)"/><ellipse rx="4.55" ry="4.3" transform="rotate(352.62) translate(324.7 0)"/><ellipse rx="4.55" ry="4.5" transform="rotate(354.10) translate(340.7 0)"/><ellipse rx="4.55" ry="4.3" transform="rotate(354.10) translate(324.7 0)"/><ellipse rx="4.55" ry="4.5" transform="rotate(355.57) translate(340.7 0)"/><ellipse rx="4.55" ry="4.3" transform="rotate(355.57) translate(324.7 0)"/><ellipse rx="4.55" ry="4.5" transform="rotate(357.05) translate(340.7 0)"/><ellipse rx="4.55" ry="4.3" transform="rotate(357.05) translate(324.7 0)"/><ellipse rx="4.55" ry="4.5" transform="rotate(358.52) translate(340.7 0)"/><ellipse rx="4.55" ry="4.3" transform="rotate(358.52) translate(324.7 0)"/></g>
</g></g>
<g id="nucleus">
<ellipse cx="375.35" cy="454.9" rx="232.85" ry="154.5" fill="#c8e6d8"/>
<ellipse cx="375.35" cy="454.9" rx="228.85" ry="150.5" fill="#b1d9c6"/>
<g clip-path="url(#nucclip)"><ellipse cx="280.3" cy="348" rx="360.4" ry="239.2" fill="#c8e6d8"/></g>
<ellipse cx="375.35" cy="454.9" rx="232.85" ry="154.5" fill="none" stroke="#5fa486" stroke-width="1.1"/>
<g transform="translate(375.35,454.9) scale(1.5071,1)" fill="none" stroke-linecap="round"><path d="M-92.3,-123.9A154.5,154.5 0 0 1 -71.3,-137M-142.8,-58.9A154.5,154.5 0 0 1 -125,-90.8M-152.1,27.4A154.5,154.5 0 0 1 -154,-12.4M-112.8,105.6A154.5,154.5 0 0 1 -136.5,72.3M-34.2,150.7A154.5,154.5 0 0 1 -76.8,134.1M52.1,145.5A154.5,154.5 0 0 1 5.9,154.4M117.8,99.9A154.5,154.5 0 0 1 89.5,125.9M153.2,19.6A154.5,154.5 0 0 1 143.8,56.4M140.3,-64.8A154.5,154.5 0 0 1 152,-27.9M82.3,-130.7A154.5,154.5 0 0 1 114.5,-103.8M-6.7,-154.4A154.5,154.5 0 0 1 40.2,-149.2" stroke="#5c9f82" stroke-width="8.6"/><path d="M-92.3,-123.9A154.5,154.5 0 0 1 -71.3,-137M-142.8,-58.9A154.5,154.5 0 0 1 -125,-90.8M-152.1,27.4A154.5,154.5 0 0 1 -154,-12.4M-112.8,105.6A154.5,154.5 0 0 1 -136.5,72.3M-34.2,150.7A154.5,154.5 0 0 1 -76.8,134.1M52.1,145.5A154.5,154.5 0 0 1 5.9,154.4M117.8,99.9A154.5,154.5 0 0 1 89.5,125.9M153.2,19.6A154.5,154.5 0 0 1 143.8,56.4M140.3,-64.8A154.5,154.5 0 0 1 152,-27.9M82.3,-130.7A154.5,154.5 0 0 1 114.5,-103.8M-6.7,-154.4A154.5,154.5 0 0 1 40.2,-149.2" stroke="#70b093" stroke-width="7.2"/></g>
</g>
<g id="mito">
<path d="M649.8,237.9 659.1,238.3 666.7,240 673.9,242.8 680.6,247 683.7,249.5 686.6,252.4 713.6,283.1 734,303.1 742.4,310.9 749,316.5 753.5,319.8 782.9,340.3 788.5,343.7 807.2,353.8 828.5,364.5 836.2,367.9 849.2,372.9 856.7,375.2 875.9,380 893.2,383.1 913.6,388 924.8,390.3 934.3,393.8 937.7,395.7 940.8,397.9 947.4,403.9 950.7,407.8 952.7,411 955.8,416.7 957.3,420.5 958.2,424.2 958.6,427.8 958.8,433.3 958.4,438.7 957.4,444.2 955.8,449.9 954.4,453.6 951.7,459.2 948.3,464.8 945.6,468.5 934.2,481.6 928.1,487.2 916.3,495.2 910.5,498.6 905.7,501 878.5,511.4 869.2,514.4 858,517.5 844.9,520.4 833.8,522.3 826,523.1 814.4,523.6 807.3,523.6 799.8,523.2 791.1,522.2 784.8,521.1 762.4,516.2 756.7,514.5 745.1,510.3 728.5,503.3 711.8,494.9 704.5,490.6 692.3,482.6 680.6,473.9 661.7,458 650.4,447.2 647.1,443.1 642.6,436 634.7,424.8 615.7,393.1 609,381.3 605.9,373.6 603.1,364.5 601.1,356 599.9,347.6 598.6,336.4 598,325.2 598.3,314.1 599.2,298.9 599.9,293 601.6,284.9 604.6,274.9 607.3,268 611.8,259.8 615.8,254.3 620.5,249.5 625.6,245.4 631.1,242.1 636.7,239.8 642.3,238.4Z" fill="#b2bce2"/>
<path d="M650.7,415.6 651.2,420 653,424.7 659.6,434.8 665.2,440.9 705.7,468 710.3,472.1 712.4,476.9 714,478.8 722.5,483.6 731,487.7 732.8,487.9 734.5,487.6 736.1,486.8 737.3,485.5 754.4,458.1 759.4,450.6 762.3,447.4 765.1,445.5 768.2,444.6 771.7,444.7 775,446.1 777.5,448.2 779.3,451.3 780,454.8 779.4,458.3 778.3,460.6 769.5,473.4 758.3,491.5 757.5,494.2 757.9,497 759.2,498.9 760.6,499.9 766.2,501.7 787.6,506.4 798.3,508 801.7,507.3 803.8,505.5 823,478.5 834.2,460.6 835.8,458.8 837.7,457.5 839.9,456.7 842.4,456.5 845,457 847.1,458 849,459.5 850.3,461.5 851.2,463.6 851.5,465.9 851.1,468.5 850.1,471 841.5,485 832.6,498.4 832.3,500.7 833.2,503.5 835.3,505.5 838.2,506.3 847.3,504.6 859.6,501.5 871.9,497.9 874.7,496.4 880.6,486.9 901.1,450.8 902.5,449.2 904.6,448.1 907.6,447.9 910.4,449.1 912.2,451.5 912.7,454.5 912,457 903,472.9 902.5,474.6 902.7,476.9 903.4,478.6 904.6,479.9 906.1,480.8 907.8,481.3 910.7,480.9 914.2,478.7 918.9,475.3 923.3,471.3 931.1,462.6 935.9,456.3 939.2,450.7 941.6,445.2 943.1,439.6 943.8,434.4 943.7,428.9 942.9,424.9 940.7,420 937.2,414.9 932.6,410.5 928.6,407.7 920.8,404.8 918.3,404.2 916.6,404.2 914.4,405.1 912.7,406.8 884.8,448.2 882.7,449.9 880.1,450.8 877.3,450.9 874.7,450.1 872.2,448.2 870.6,445.5 870,442.4 870.6,439.5 878.4,427.1 892.6,406.2 893.3,403.9 893,401.6 891.5,399 888.9,397.6 874.8,395.1 858.9,391.2 856.5,391.1 854.3,392 852.6,393.6 809.9,455.2 807.4,457.2 804.4,458.2 801.3,458.1 798.3,457 795.7,454.7 794.1,451.8 793.7,448.3 794.6,445.1 832.5,389.9 833.3,387 833,385.3 832.3,383.7 830.1,381.7 804.7,369.4 783.4,357.9 781.1,357.3 778.8,357.5 776.3,359.1 775,361 760.3,399 759.4,402.2 757.8,405.2 755.4,407.6 752.3,408.8 748.9,408.7 745.9,407.4 744.1,405.7 742.8,403.4 742.2,400.7 742.5,398.3 761.5,349 761.9,346.8 761.4,344.6 759.8,342.3 742.2,330.2 731.2,321 729,320 726.6,319.9 724.4,320.8 722.7,322.4 719.7,329.4 717.6,337.2 716.3,347.3 715,350 712.7,352 709.9,352.9 707,352.7 704.2,351.3 702.4,349 701.5,346.2 702.8,334.6 704.4,327.4 707,320.5 712.7,307.9 713,305 711.5,301.9 701.3,291.9 699.8,291 697.5,290.4 694.6,291 692.4,292.9 681.3,311.7 671.3,327.3 667.7,334.4 666.5,339.4 666.3,346.7 666.8,352.4 669.7,365.6 670,369.2 669.6,373 668.8,375.9 667.1,379.7 663.8,385.7 658.2,394.5 653.9,402.9 651.7,409ZM613.2,315.8 613.8,318.7 615.7,320.9 618.4,322 621.2,321.7 622.8,320.9 624,319.6 636.5,301.7 638.2,300 640.8,299 643.8,299.1 646.3,300.4 648.1,302.9 648.6,305.9 647.8,308.7 637.9,322.7 631,333.3 628.4,336 625.6,338 617,342.2 615.5,344.1 614.9,346.3 616.8,357.9 620.9,371 623.4,376.6 630.6,388.9 632.6,390.9 635.3,391.8 637.6,391.5 643.4,389.5 644.8,388.7 646.3,387.1 651.9,378.3 655.8,370.6 655.8,366.9 652.9,353.9 652.3,344.3 652.7,336.9 654.7,329.4 659.1,320.4 674.7,295.4 684.4,278.4 685.1,275.5 684.4,272.6 672.8,259.9 668.4,256.9 663.5,254.7 656,253 646.9,253 641.6,254 635.5,256.8 630.4,260.7 626.3,265.3 622.5,271.1 619.5,277.8 616.7,286.4 614.7,295.2 613.9,303.1Z" fill="#7178b0"/>
<path d="M649.8,239.8 642.6,240.3 637.3,241.6 630.1,244.8 625,248.2 620.2,252.3 615.9,257.2 611.1,264.7 608.1,271 604.8,280.3 602.8,287.9 601.8,293.3 600.8,302.2 600,317 600,327.9 600.8,339 602.5,352.9 604.1,361.1 605.8,367 608.7,375.7 610.8,380.5 618.5,394 637.5,425.6 644.2,435 648.6,442 651.8,445.9 656.8,450.9 666.1,459.4 684.9,474.9 698.6,484.5 709.3,491.2 716.4,495.2 736.8,504.9 754.7,511.8 766.3,515.2 789.7,520.1 803.7,521.5 816.1,521.7 825.9,521.2 833.5,520.4 844.6,518.5 857.5,515.6 868.7,512.6 877.9,509.6 904.9,499.2 909.6,496.9 915.3,493.6 926.9,485.7 932.9,480.3 944.1,467.4 946.7,463.7 950,458.3 952.6,452.9 954,449.2 955.6,443.8 956.5,438.5 956.9,433.3 956.7,428 956.3,424.5 955.5,421.1 954.1,417.4 951.1,412 949.1,408.9 946.1,405.2 939.6,399.4 933.4,395.5 924.3,392.1 913.2,389.8 892.8,385 875.5,381.9 856.2,377.1 848.6,374.6 835.5,369.7 827.7,366.2 806.3,355.5 787.6,345.3 781.9,341.8 752.4,321.4 747.8,318 741.1,312.3 732.7,304.5 712.2,284.4 686.7,255.3 682.4,250.9 679.5,248.5 673.1,244.5 666.1,241.8 658.9,240.2Z" fill="none" stroke="#6367a9" stroke-width="2.4" stroke-dasharray="13 8"/>
</g>
<g id="cisplatin"><circle cx="90.1" cy="32.5" r="2.1" fill="#000"/><circle cx="84.6" cy="37.5" r="2.1" fill="#000"/><circle cx="94.6" cy="40.8" r="2.1" fill="#000"/><circle cx="89.1" cy="43" r="2.1" fill="#000"/><circle cx="80.6" cy="50.1" r="2.1" fill="#000"/><circle cx="93.1" cy="50.8" r="2.1" fill="#000"/><circle cx="102.6" cy="50.1" r="2.1" fill="#000"/><circle cx="75.1" cy="59.3" r="2.1" fill="#000"/><circle cx="86.3" cy="57.6" r="2.1" fill="#000"/><circle cx="100.9" cy="57.1" r="2.1" fill="#000"/><circle cx="108.4" cy="60.1" r="2.1" fill="#000"/><circle cx="116.9" cy="61.3" r="2.1" fill="#000"/><circle cx="68.8" cy="64.3" r="2.1" fill="#858a8a"/><circle cx="80.1" cy="65.6" r="2.1" fill="#000"/><circle cx="93.1" cy="66.3" r="2.1" fill="#000"/><circle cx="103.9" cy="69.6" r="2.1" fill="#000"/><circle cx="72.6" cy="72.6" r="2.1" fill="#858a8a"/><circle cx="113.1" cy="73.3" r="2.1" fill="#000"/><circle cx="75.1" cy="80.1" r="2.1" fill="#000"/><circle cx="86.3" cy="79.3" r="2.1" fill="#000"/><circle cx="98.8" cy="77.1" r="2.1" fill="#000"/><circle cx="93.3" cy="84.3" r="2.1" fill="#000"/><circle cx="108.9" cy="84.3" r="2.1" fill="#858a8a"/><circle cx="123.9" cy="83.3" r="2.1" fill="#000"/><circle cx="72.6" cy="89.3" r="2.1" fill="#858a8a"/><circle cx="82.6" cy="90.6" r="2.1" fill="#000"/><circle cx="95.1" cy="91.8" r="2.1" fill="#858a8a"/><circle cx="104.4" cy="91.8" r="2.1" fill="#858a8a"/><circle cx="61.8" cy="97.1" r="2.1" fill="#858a8a"/><circle cx="75.1" cy="100.6" r="2.1" fill="#000"/><circle cx="90.1" cy="98.3" r="2.1" fill="#858a8a"/><circle cx="110.9" cy="98.3" r="2.1" fill="#000"/></g>
<text x="92.3" y="123.4" class="rs" font-size="17.5" text-anchor="middle" fill="#000">Cisplatin</text>
<g id="arrows1">
<polygon fill="#000" points="77.4,140.2 117,226.5 110.4,225.7 125.3,237.6 126,218.6 122.3,224.1 82.6,137.8"/>
<polygon fill="#000" points="276.2,224 134.7,96.5 141.1,94.6 122.7,89.6 129.6,107.4 130.8,100.8 272.4,228.4"/>
<polygon fill="#000" points="173.4,317.5 237.8,477 231.1,476 245.4,488.5 247,469.5 242.9,475 178.6,315.5"/>
<polygon fill="#000" points="428.7,132.1 470.2,317.8 463.7,315.7 475.8,330.4 480.5,311.9 475.5,316.6 434.1,130.9"/>
<polygon fill="#000" points="573.4,171.4 472.1,112.3 478.1,109 459.1,107.9 469.4,123.9 469.4,117.1 570.6,176.2"/>
<polygon fill="#000" points="468.2,387.5 389.7,309.9 396.3,308.1 378.2,302.3 384.2,320.4 385.9,313.7 464.4,391.3"/>
<polygon fill="#000" points="853,210.3 824.5,194.5 830.4,191 811.4,190.3 822.1,206.1 821.9,199.3 850.4,215.1"/>
<polygon fill="#000" points="858.1,446.1 881.4,304.3 886.6,308.7 880.9,290.5 869.7,305.9 876,303.4 852.7,445.3"/>
<polygon fill="#000" points="701.6,537.3 659.2,383.6 665.8,385.4 653,371.3 649.2,390 653.9,385 696.2,538.7"/>
</g>
<g><ellipse cx="157.6" cy="272.8" rx="70.6" ry="34.7" fill="#f3d169"/><ellipse cx="157.6" cy="271.8" rx="67.6" ry="31.7" fill="#f8dc7c"/></g>
<text x="135" y="276.8" class="bs" font-size="17.5">DDB<tspan font-size="15" dy="3.5">2</tspan></text>
<rect x="249.8" y="242.5" width="120.8" height="121" rx="13" fill="#fff" stroke="#000" stroke-width="1.3" stroke-dasharray="1.3 2.1"/>
<rect x="253.5" y="251.4" width="116.5" height="26.4" rx="13" fill="#edc45f"/><rect x="253.5" y="251.4" width="115" height="24.4" rx="13" fill="#f7d983"/>
<rect x="253.5" y="280.5" width="116.5" height="38" rx="13" fill="#edc45f"/><rect x="253.5" y="280.5" width="115" height="36" rx="13" fill="#f7d983"/>
<rect x="256" y="321.9" width="116" height="37.4" rx="13" fill="#edc45f"/><rect x="256" y="321.9" width="114.5" height="35.4" rx="13" fill="#f7d983"/>
<text x="311.7" y="270.3" class="sa" font-size="14" text-anchor="middle" fill="#000">Stemness</text>
<text x="311.5" y="297.2" class="sa" font-size="14" text-anchor="middle" fill="#000">ABC</text>
<text x="311.5" y="314.2" class="sa" font-size="14" text-anchor="middle" fill="#000">Transporters</text>
<text x="313.5" y="337.8" class="sa" font-size="14" text-anchor="middle" fill="#000">Anti-</text>
<text x="313.5" y="354.8" class="sa" font-size="14" text-anchor="middle" fill="#000">apoptosis</text>
<g><ellipse cx="419.8" cy="102.9" rx="39" ry="28.3" fill="#759fc6"/><ellipse cx="419.8" cy="101.9" rx="36.5" ry="25.8" fill="#80add0"/></g>
<text x="419.6" y="108.8" class="bs" font-size="17.5" text-anchor="middle" fill="#000">Snail</text>
<g><ellipse cx="608.7" cy="173.7" rx="38.3" ry="21.3" fill="#b3d8c6"/><ellipse cx="608.2" cy="171.7" rx="36.6" ry="19.8" fill="#cbe9da"/></g>
<text x="609" y="178.8" class="sa" font-size="14" text-anchor="middle" fill="#000">GSK3β</text>
<g><ellipse cx="769.4" cy="182.2" rx="44.4" ry="22.8" fill="#c6a898"/><ellipse cx="768.9" cy="180.2" rx="42.8" ry="21.3" fill="#d9bfb0"/></g>
<text x="769.5" y="188" class="bs" font-size="17.5" text-anchor="middle" fill="#000">Akt</text>
<path d="M652.5,173.4 L724,175 L652.5,177.2Z" fill="#cc3b3b"/><path d="M651.2,165.7V185.6" stroke="#cc3b3b" stroke-width="1.6"/>
<text transform="translate(468.2,97.3) rotate(29.6)" class="sa" font-size="17.3">phosphorylation</text>
<text transform="translate(463.7,131.9) rotate(30.2)" class="sa" font-size="17.2">degradation</text>
<text transform="translate(192.6,135.4) rotate(43.7)" class="bs" font-size="17">Resistance</text>
<text transform="translate(384.5,332.5) rotate(44.7)" class="bs" font-size="17.5">Induction of</text>
<text transform="translate(387.7,366.3) rotate(44.7)" class="bs" font-size="17.5">EMT</text>
<path d="M895.1,199.7Q897.9,216.1 904.3,208.1Q903.7,217.4 919.7,205.7Q909.6,220.6 922.6,218.9Q913.9,226.6 936.6,230.3Q913.9,234 922.6,241.7Q909.6,240 919.7,254.9Q903.7,243.2 904.3,252.5Q897.9,244.5 895.1,260.9Q892.3,244.5 885.9,252.5Q886.5,243.2 870.5,254.9Q880.6,240 867.6,241.7Q876.3,234 853.6,230.3Q876.3,226.6 867.6,218.9Q880.6,220.6 870.5,205.7Q886.5,217.4 885.9,208.1Q892.3,216.1 895.1,199.7Z" fill="#e67865" stroke="#d9604f" stroke-width="0.8"/>
<text x="895.6" y="235.3" class="bsa" font-size="13.7" text-anchor="middle" fill="#7a1c1c">ROS</text>
<path d="M845.1,238.1Q847.9,254.5 854.3,246.5Q853.7,255.8 869.7,244.1Q859.6,259 872.6,257.3Q863.9,265 886.6,268.7Q863.9,272.4 872.6,280.1Q859.6,278.4 869.7,293.3Q853.7,281.6 854.3,290.9Q847.9,282.9 845.1,299.3Q842.3,282.9 835.9,290.9Q836.5,281.6 820.5,293.3Q830.6,278.4 817.6,280.1Q826.3,272.4 803.6,268.7Q826.3,265 817.6,257.3Q830.6,259 820.5,244.1Q836.5,255.8 835.9,246.5Q842.3,254.5 845.1,238.1Z" fill="#e67865" stroke="#d9604f" stroke-width="0.8"/>
<text x="845.6" y="273.7" class="bsa" font-size="13.7" text-anchor="middle" fill="#7a1c1c">ROS</text>
<g id="arrows2">
<polygon fill="#000" points="655.8,329 655.8,310.6 661,313.6 653,298.6 645,313.6 650.2,310.6 650.2,329"/>
<polygon fill="#000" points="676.9,303.6 725.2,340.7 718.9,343.2 737.6,346.7 729.4,329.5 728.6,336.3 680.3,299.2"/>
<polygon fill="#000" points="760.8,387.9 792.5,442.4 785.7,442.3 801.7,452.7 800.6,433.7 797.3,439.6 765.6,385.1"/>
<polygon fill="#000" points="850.4,458.9 876.9,430.4 878.7,436.1 883.1,419.7 867,425.2 872.9,426.6 846.4,455.1"/>
</g>
<g><ellipse cx="660" cy="281.8" rx="31.2" ry="16.1" fill="#f0cc55"/><ellipse cx="660" cy="281.3" rx="29.7" ry="14.6" fill="#f9da68"/></g>
<text x="660" y="287" class="bs" font-size="15" text-anchor="middle" fill="#000">FAO</text>
<g><ellipse cx="675" cy="350.2" rx="26.5" ry="16.6" fill="#93b9b7"/><ellipse cx="674.5" cy="348.7" rx="24.9" ry="15.1" fill="#abcdcb"/></g>
<g><ellipse cx="629.3" cy="351.7" rx="29.3" ry="16.9" fill="#dbbcbc"/><ellipse cx="628.8" cy="350.2" rx="27.7" ry="15.4" fill="#ecd6d6"/></g>
<text x="629.9" y="357" class="sa" font-size="14" text-anchor="middle" fill="#000">Acyl</text>
<text x="672.3" y="355" class="sa" font-size="14" text-anchor="middle" fill="#000">CoA</text>
<g><ellipse cx="782.4" cy="368" rx="27" ry="16.7" fill="#93b9b7"/><ellipse cx="781.9" cy="366.5" rx="25.4" ry="15.2" fill="#abcdcb"/></g>
<g><ellipse cx="733.5" cy="369.3" rx="30.4" ry="17" fill="#3590a0"/><ellipse cx="733" cy="367.8" rx="28.8" ry="15.5" fill="#3fa2b2"/></g>
<text x="733.8" y="374.5" class="sa" font-size="14" text-anchor="middle" fill="#000">Acetyl</text>
<text x="778.3" y="372.8" class="sa" font-size="14" text-anchor="middle" fill="#000">CoA</text>
<text x="905.5" y="418.5" class="sa" font-size="15.2" text-anchor="middle" fill="#000">ATP</text>
<path d="M802.2,462.8A25.7,25.7 0 0 1 842,461.5M846.7,469.5A25.7,25.7 0 0 1 827.1,503.7M819.6,503.9A25.7,25.7 0 0 1 798.7,469M842.8,452.4L842.3,461.9L832.9,460.7M834.5,509.1L826.6,503.8L832.5,496.3M790.2,472.5L798.9,468.6L802.2,477.5" fill="none" stroke="#000" stroke-width="5.3" stroke-linecap="round" stroke-linejoin="miter"/>
<text x="822" y="475.3" class="sa" font-size="14" text-anchor="middle" fill="#000">TCA</text>
<text x="822.3" y="492.3" class="sa" font-size="14" text-anchor="middle" fill="#000">cycle</text>
<g><ellipse cx="661.5" cy="466.5" rx="29.9" ry="19.5" fill="#e88c9c"/><ellipse cx="662" cy="468" rx="28.6" ry="18.3" fill="#e1607b"/></g>
<g><ellipse cx="699" cy="440" rx="36" ry="20.8" fill="#e9a2b0"/><ellipse cx="698.5" cy="438.5" rx="34.6" ry="19.6" fill="#f6bec8"/></g>
<text x="699" y="445" class="rs" font-size="14" text-anchor="middle" fill="#000">CPT2</text>
<text x="661.6" y="472" class="rs" font-size="16" text-anchor="middle" fill="#000">CPT1C</text>
<g><ellipse cx="642.5" cy="490.3" rx="13.9" ry="13.7" fill="#c8db90"/><ellipse cx="641.9" cy="489.5" rx="12.7" ry="12.7" fill="#dceaaa"/></g>
<text x="642.8" y="494.9" class="bs" font-size="13.5" text-anchor="middle" fill="#000">Ub</text>
<g><ellipse cx="642.5" cy="511.8" rx="13.9" ry="13.7" fill="#c8db90"/><ellipse cx="641.9" cy="511" rx="12.7" ry="12.7" fill="#dceaaa"/></g>
<text x="642.8" y="516.4" class="bs" font-size="13.5" text-anchor="middle" fill="#000">Ub</text>
<g><ellipse cx="642.5" cy="535" rx="13.9" ry="13.7" fill="#c8db90"/><ellipse cx="641.9" cy="534.2" rx="12.7" ry="12.7" fill="#dceaaa"/></g>
<text x="642.8" y="539.6" class="bs" font-size="13.5" text-anchor="middle" fill="#000">Ub</text>
<polygon fill="#000" points="595.5,449.6 623.1,458.5 618.7,462.6 635.4,459.6 623.6,447.4 624.8,453.3 597.1,444.4"/>
<polygon fill="#f0290b" points="639.8,553.3 639.8,588 633.7,588 642.5,605 651.3,588 645.2,588 645.2,553.3"/>
<text x="642.2" y="617.4" class="sa" font-size="14" text-anchor="middle" fill="#000">degradation</text>
<text x="708.2" y="555.8" class="rs" font-size="14" text-anchor="middle" fill="#000">Fatty Acids</text>
<path d="M462.7,407.3 463.3,407.2 464,406.7 464.6,406 465.3,405 465.9,403.7 466.6,402.2 467.4,400.5 468.1,398.6 468.9,396.5 469.7,394.3 470.5,392.1 471.4,389.8 472.3,387.5 473.2,385.3 474.2,383.1 475.2,381.1 476.2,379.1 477.2,377.4 478.3,375.9 479.4,374.6 480.5,373.6 481.6,372.9 482.7,372.4 483.8,372.3 484.7,372.3 484,372.4 483.4,372.9 482.7,373.6 482.1,374.6 481.4,375.9 480.7,377.4 480,379.1 479.2,381.1 478.5,383.1 477.7,385.3 476.8,387.5 476,389.8 475.1,392.1 474.1,394.3 473.2,396.5 472.2,398.6 471.2,400.5 470.1,402.2 469.1,403.7 468,405 466.9,406 465.8,406.7 464.6,407.2 463.5,407.3Z" fill="#6f8fd6"/><path d="M483.8,372.3 484.5,372.4 485.1,372.9 485.8,373.6 486.4,374.6 487.1,375.9 487.8,377.4 488.5,379.1 489.3,381.1 490,383.1 490.8,385.3 491.7,387.5 492.5,389.8 493.4,392.1 494.4,394.3 495.3,396.5 496.3,398.6 497.3,400.5 498.4,402.2 499.4,403.7 500.5,405 501.6,406 502.7,406.7 503.9,407.2 505,407.3 505.8,407.3 505.2,407.2 504.5,406.7 503.9,406 503.2,405 502.6,403.7 501.9,402.2 501.1,400.5 500.4,398.6 499.6,396.5 498.8,394.3 498,392.1 497.1,389.8 496.2,387.5 495.3,385.3 494.3,383.1 493.3,381.1 492.3,379.1 491.3,377.4 490.2,375.9 489.1,374.6 488,373.6 486.9,372.9 485.8,372.4 484.7,372.3Z" fill="#b4cdf0"/><path d="M505,407.3 505.6,407.2 506.3,406.7 506.9,406 507.6,405 508.2,403.7 508.9,402.2 509.7,400.5 510.4,398.5 511.2,396.5 512,394.3 512.8,392.1 513.7,389.8 514.6,387.5 515.5,385.3 516.5,383.1 517.5,381.1 518.5,379.1 519.5,377.4 520.6,375.9 521.7,374.6 522.8,373.6 523.9,372.9 525,372.4 526.2,372.3 527,372.3 526.3,372.4 525.7,372.9 525,373.6 524.4,374.6 523.7,375.9 523,377.4 522.3,379.1 521.5,381.1 520.8,383.1 520,385.3 519.1,387.5 518.3,389.8 517.4,392.1 516.4,394.3 515.5,396.5 514.5,398.5 513.5,400.5 512.4,402.2 511.4,403.7 510.3,405 509.2,406 508.1,406.7 506.9,407.2 505.8,407.3Z" fill="#6f8fd6"/><path d="M526.2,372.3 526.8,372.4 527.4,372.9 528.1,373.6 528.7,374.6 529.4,375.9 530.1,377.4 530.8,379.1 531.6,381.1 532.3,383.1 533.1,385.3 534,387.5 534.8,389.8 535.7,392.1 536.7,394.3 537.6,396.5 538.6,398.6 539.6,400.5 540.7,402.2 541.7,403.7 542.8,405 543.9,406 545,406.7 546.2,407.2 547.3,407.3 548.1,407.3 547.5,407.2 546.8,406.7 546.2,406 545.5,405 544.9,403.7 544.2,402.2 543.4,400.5 542.7,398.6 541.9,396.5 541.1,394.3 540.3,392.1 539.4,389.8 538.5,387.5 537.6,385.3 536.6,383.1 535.6,381.1 534.6,379.1 533.6,377.4 532.5,375.9 531.4,374.6 530.3,373.6 529.2,372.9 528.1,372.4 527,372.3Z" fill="#b4cdf0"/><path d="M547.3,407.3 547.3,407.3 547.3,407.3 547.3,407.3 547.3,407.3 547.3,407.3 547.4,407.3 547.4,407.3 547.4,407.3 547.4,407.3 547.4,407.3 547.4,407.3 547.4,407.3 547.4,407.3 547.4,407.3 547.4,407.3 547.4,407.3 547.5,407.3 547.5,407.3 547.5,407.3 547.5,407.3 547.5,407.3 547.5,407.3 547.5,407.3 547.5,407.3 548.5,407.3 548.5,407.3 548.5,407.3 548.4,407.3 548.4,407.3 548.4,407.3 548.4,407.3 548.4,407.3 548.4,407.3 548.3,407.3 548.3,407.3 548.3,407.3 548.3,407.3 548.3,407.3 548.3,407.3 548.2,407.3 548.2,407.3 548.2,407.3 548.2,407.3 548.2,407.3 548.2,407.3 548.1,407.3 548.1,407.3 548.1,407.3 548.1,407.3Z" fill="#6f8fd6"/>
<path d="M460.3,372.3 460.9,372.4 461.5,372.9 462.2,373.6 462.8,374.6 463.5,375.9 464.2,377.4 464.9,379.1 465.6,381.1 466.4,383.1 467.1,385.3 468,387.5 468.8,389.8 469.7,392.1 470.6,394.3 471.6,396.5 472.5,398.6 473.5,400.5 474.6,402.2 475.6,403.7 476.7,405 477.8,406 478.9,406.7 480,407.2 481.1,407.3 481.9,407.3 481.3,407.2 480.7,406.7 480,406 479.4,405 478.7,403.7 478.1,402.2 477.4,400.5 476.6,398.6 475.9,396.5 475.1,394.3 474.3,392.1 473.4,389.8 472.5,387.5 471.6,385.3 470.7,383.1 469.7,381.1 468.7,379.1 467.6,377.4 466.6,375.9 465.5,374.6 464.4,373.6 463.3,372.9 462.2,372.4 461.1,372.3Z" fill="#e0c0e2"/><path d="M481.1,407.3 481.7,407.2 482.4,406.7 483,406 483.6,405 484.3,403.7 485,402.2 485.7,400.5 486.4,398.6 487.2,396.5 488,394.3 488.8,392.1 489.6,389.8 490.5,387.5 491.4,385.3 492.4,383.1 493.4,381.1 494.4,379.1 495.4,377.4 496.5,375.9 497.5,374.6 498.6,373.6 499.7,372.9 500.8,372.4 501.9,372.3 502.7,372.3 502.1,372.4 501.5,372.9 500.9,373.6 500.2,374.6 499.6,375.9 498.9,377.4 498.2,379.1 497.5,381.1 496.7,383.1 495.9,385.3 495.1,387.5 494.2,389.8 493.4,392.1 492.4,394.3 491.5,396.5 490.5,398.6 489.5,400.5 488.5,402.2 487.4,403.7 486.3,405 485.3,406 484.2,406.7 483,407.2 481.9,407.3Z" fill="#a877bb"/><path d="M501.9,372.3 502.6,372.4 503.2,372.9 503.8,373.6 504.5,374.6 505.1,375.9 505.8,377.4 506.5,379.1 507.2,381 508,383.1 508.8,385.3 509.6,387.5 510.5,389.8 511.3,392.1 512.3,394.3 513.2,396.5 514.2,398.6 515.2,400.5 516.2,402.2 517.3,403.7 518.4,405 519.4,406 520.5,406.7 521.7,407.2 522.8,407.3 523.6,407.3 523,407.2 522.3,406.7 521.7,406 521.1,405 520.4,403.7 519.7,402.2 519,400.5 518.3,398.6 517.5,396.5 516.7,394.3 515.9,392.1 515.1,389.8 514.2,387.5 513.3,385.3 512.3,383.1 511.3,381 510.3,379.1 509.3,377.4 508.2,375.9 507.2,374.6 506.1,373.6 505,372.9 503.9,372.4 502.7,372.3Z" fill="#e0c0e2"/><path d="M522.8,407.3 523.4,407.2 524,406.7 524.7,406 525.3,405 526,403.7 526.6,402.2 527.3,400.5 528.1,398.5 528.8,396.5 529.6,394.3 530.4,392.1 531.3,389.8 532.2,387.5 533.1,385.3 534,383.1 535,381.1 536,379.1 537.1,377.4 538.1,375.9 539.2,374.6 540.3,373.6 541.4,372.9 542.5,372.4 543.6,372.3 544.4,372.3 543.8,372.4 543.2,372.9 542.5,373.6 541.9,374.6 541.2,375.9 540.5,377.4 539.8,379.1 539.1,381.1 538.3,383.1 537.6,385.3 536.7,387.5 535.9,389.8 535,392.1 534.1,394.3 533.1,396.5 532.2,398.5 531.2,400.5 530.1,402.2 529.1,403.7 528,405 526.9,406 525.8,406.7 524.7,407.2 523.6,407.3Z" fill="#a877bb"/>
<g><ellipse cx="500.6" cy="362.4" rx="38.7" ry="28.3" fill="#759fc6"/><ellipse cx="500.6" cy="361.4" rx="36.2" ry="25.8" fill="#80add0"/></g>
<text x="500.5" y="368.3" class="bs" font-size="17.5" text-anchor="middle" fill="#000">Snail</text>
<g><ellipse cx="291.2" cy="446.2" rx="54.8" ry="30.9" fill="#c2a4c7"/><ellipse cx="291.2" cy="444.2" rx="52.8" ry="28.9" fill="#b08cb6"/></g>
<text x="291.5" y="455" class="bs" font-size="17.5" text-anchor="middle" fill="#000">EZH2</text>
<g><ellipse cx="291.5" cy="501.7" rx="53.3" ry="29.6" fill="#f3d169"/><ellipse cx="291.5" cy="500.7" rx="50.3" ry="26.6" fill="#f8dc7c"/></g>
<text x="271.2" y="507" class="bs" font-size="17.5">DDB<tspan font-size="9.5" dy="3">2</tspan></text>
<path d="M334.8,428.5C342,410 364,403 392,424.5" fill="none" stroke="#000" stroke-width="5"/>
<polygon points="398.5,429 379.5,427 388,421.5 389.5,411" fill="#000"/>
<text x="405.5" y="446.5" class="rs" font-size="15.5" text-anchor="middle" fill="#000">H3K27me3</text>
<path d="M343,512.6H508" stroke="#a556a8" stroke-width="3"/>
<g transform="translate(347,0)"><path d="M22,469.2C4,469.2 0,484 0,491.5C0,500 5,513.5 22,513.5C36,513.5 50,506 50,491C50,476 36,469.2 22,469.2Z" fill="#e6cfe6" stroke="#a24fa5" stroke-width="0.9" stroke-dasharray="1.6 1.2"/><path d="M38,470.5C52,478 52,504 39,512.5C46,504 46,478 38,470.5Z" fill="#dcc0dd"/><path d="M13.2,469.8C28.0,476 28.0,505 15.899999999999999,514.4L19.9,514.4C32.0,505 32.0,476 17.2,469.8Z" fill="#d9badb"/><path d="M13.2,469.8C28.0,476 28.0,505 15.899999999999999,514.4M17.2,469.8C32.0,476 32.0,505 19.9,514.4" fill="none" stroke="#a258a6" stroke-width="1.1"/><path d="M32,469.8C46.8,476 46.8,505 34.7,514.4L38.7,514.4C50.8,505 50.8,476 36,469.8Z" fill="#d9badb"/><path d="M32,469.8C46.8,476 46.8,505 34.7,514.4M36,469.8C50.8,476 50.8,505 38.7,514.4" fill="none" stroke="#a258a6" stroke-width="1.1"/></g><g transform="translate(412.1,0)"><path d="M22,469.2C4,469.2 0,484 0,491.5C0,500 5,513.5 22,513.5C36,513.5 50,506 50,491C50,476 36,469.2 22,469.2Z" fill="#e6cfe6" stroke="#a24fa5" stroke-width="0.9" stroke-dasharray="1.6 1.2"/><path d="M38,470.5C52,478 52,504 39,512.5C46,504 46,478 38,470.5Z" fill="#dcc0dd"/><path d="M13.2,469.8C28.0,476 28.0,505 15.899999999999999,514.4L19.9,514.4C32.0,505 32.0,476 17.2,469.8Z" fill="#d9badb"/><path d="M13.2,469.8C28.0,476 28.0,505 15.899999999999999,514.4M17.2,469.8C32.0,476 32.0,505 19.9,514.4" fill="none" stroke="#a258a6" stroke-width="1.1"/><path d="M32,469.8C46.8,476 46.8,505 34.7,514.4L38.7,514.4C50.8,505 50.8,476 36,469.8Z" fill="#d9badb"/><path d="M32,469.8C46.8,476 46.8,505 34.7,514.4M36,469.8C50.8,476 50.8,505 38.7,514.4" fill="none" stroke="#a258a6" stroke-width="1.1"/></g>
<polygon points="373,446.8 364,468.8 383.1,468.8" fill="#f50a32"/><polygon points="436,446.8 426.9,468.8 446.2,468.8" fill="#f50a32"/>
<path d="M469.8,511V443.8H506" fill="none" stroke="#000" stroke-width="4.8"/>
<polygon points="518.5,443.8 501,452.3 504.5,443.8 501,435.3" fill="#000"/>
<path d="M476,430L504,458M504,430L476,458" stroke="#c8202a" stroke-width="2.4"/>
<g><ellipse cx="558" cy="446.4" rx="37.8" ry="21.3" fill="#88939f"/><ellipse cx="557.5" cy="444.9" rx="36.1" ry="19.8" fill="#9ba6b2"/></g>
<text x="559.5" y="451.3" class="sa" font-size="14" text-anchor="middle" fill="#000">NEDD4L</text>
<text x="371.7" y="546" class="bs" font-size="17.6" text-anchor="middle" fill="#000">transcriptional repression</text>
</svg>
</body></html>
